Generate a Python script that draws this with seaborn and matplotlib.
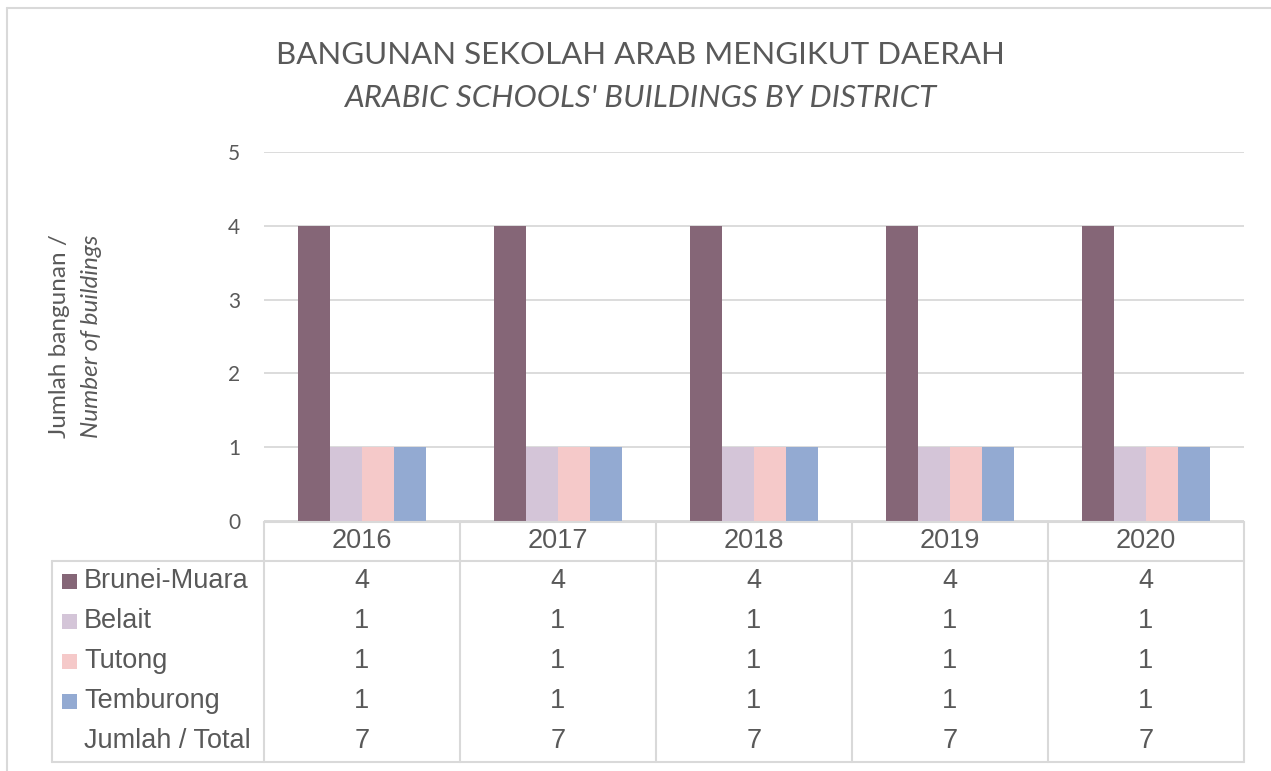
import pandas as pd
import matplotlib
matplotlib.use("Agg")
import matplotlib.pyplot as plt
from matplotlib.lines import Line2D
from matplotlib.patches import Rectangle
import seaborn as sns

# --------------------------
# Data
# --------------------------
years = ["2016", "2017", "2018", "2019", "2020"]
districts = ["Brunei-Muara", "Belait", "Tutong", "Temburong"]
brunei_muara = [4, 4, 4, 4, 4]
belait = [1, 1, 1, 1, 1]
tutong = [1, 1, 1, 1, 1]
temburong = [1, 1, 1, 1, 1]
total_label = "Jumlah / Total"
colors = ["#856677", "#d4c5d8", "#f5c9c9", "#93aad2"]

series = [brunei_muara, belait, tutong, temburong]
df = pd.DataFrame(
    [(y, d, v[i]) for d, v in zip(districts, series) for i, y in enumerate(years)],
    columns=["year", "district", "count"],
)
totals = df.groupby("year", sort=False)["count"].sum()

# --------------------------
# Figure
# --------------------------
sns.set_style("white")
plt.rcParams["font.family"] = ["Lato", "DejaVu Sans"]

W, H = 1271, 771
fig = plt.figure(figsize=(W / 100, H / 100), dpi=100)
grey = "#595959"
line_c = "#d9d9d9"


def fx(px):
    return px / W


def fy(py):
    return 1 - py / H


left, right, bottom, top = 264, 1244, 521, 152
ax = fig.add_axes([fx(left), fy(bottom), fx(right) - fx(left), fy(top) - fy(bottom)])

sns.barplot(data=df, x="year", y="count", hue="district", palette=colors,
            width=0.65, linewidth=0, saturation=1, ax=ax, legend=False, zorder=3)
ax.set_ylim(0, 5)
ax.set_xlim(-0.5, 4.5)
ax.set_yticks(range(0, 6))
ax.yaxis.grid(True, color=line_c, linewidth=1.3, zorder=0)
ax.set_axisbelow(True)
for s in ax.spines.values():
    s.set_visible(False)
ax.set_xticks([])
ax.set_xlabel("")
ax.set_ylabel("")
ax.tick_params(axis="y", length=0, pad=17, labelsize=15, labelcolor=grey)

# title
fig.text(fx(640), fy(55), "BANGUNAN SEKOLAH ARAB MENGIKUT DAERAH", ha="center", va="center",
         fontsize=22.5, color=grey)
fig.text(fx(640), fy(98), "ARABIC SCHOOLS' BUILDINGS BY DISTRICT", ha="center", va="center",
         fontsize=22.5, color=grey, style="italic")

# y axis label
fig.text(fx(59), fy(336), "Jumlah bangunan /", rotation=90, ha="center", va="center",
         fontsize=17.5, color=grey)
fig.text(fx(91), fy(336), "Number of buildings", rotation=90, ha="center", va="center",
         fontsize=17.5, color=grey, style="italic")

# --------------------------
# Data table
# --------------------------
def hline(x0, x1, y):
    fig.add_artist(Line2D([fx(x0), fx(x1)], [fy(y), fy(y)], color=line_c, lw=1.5))


def vline(x, y0, y1):
    fig.add_artist(Line2D([fx(x), fx(x)], [fy(y0), fy(y1)], color=line_c, lw=1.5))


col_w = (right - left) / len(years)
tab_left, head_top, head_bot, tab_bot = 52, 522, 561, 762
hline(left, right, head_top)
hline(tab_left, right, head_bot)
hline(tab_left, right, tab_bot)
vline(tab_left, head_bot, tab_bot)
for i in range(len(years) + 1):
    vline(left + i * col_w, head_top, tab_bot)

tf = ["Liberation Sans", "DejaVu Sans"]
fs = 19.5
for i, y in enumerate(years):
    fig.text(fx(left + (i + 0.5) * col_w), fy(541), y, ha="center", va="center",
             fontsize=fs, color=grey, family=tf)

row_ys = [581, 621, 661, 701, 741]
for r, (d, vals) in enumerate(zip(districts, series)):
    ry = row_ys[r]
    fig.add_artist(Rectangle((fx(62), fy(ry + 7.5)), fx(15), 15 / H,
                             facecolor=colors[r], edgecolor="none"))
    fig.text(fx(84), fy(ry), d, ha="left", va="center", fontsize=fs, color=grey, family=tf)
    for i, v in enumerate(vals):
        fig.text(fx(left + (i + 0.5) * col_w), fy(ry), str(v), ha="center", va="center",
                 fontsize=fs, color=grey, family=tf)

fig.text(fx(84), fy(row_ys[4]), total_label, ha="left", va="center", fontsize=fs,
         color=grey, family=tf)
for i, y in enumerate(years):
    fig.text(fx(left + (i + 0.5) * col_w), fy(row_ys[4]), str(totals[y]), ha="center",
             va="center", fontsize=fs, color=grey, family=tf)

# chart border
fig.add_artist(Line2D([fx(7), fx(7)], [fy(8), 0], color=line_c, lw=1.5))
fig.add_artist(Line2D([fx(7), 1], [fy(8), fy(8)], color=line_c, lw=1.5))

fig.savefig("out.png", dpi=100, facecolor="white")
